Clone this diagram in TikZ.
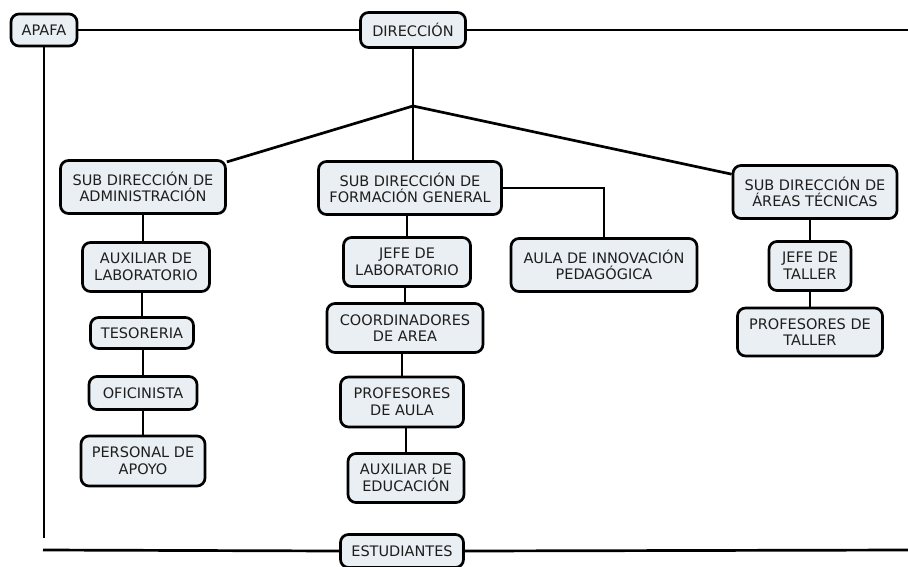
\documentclass[tikz,border=0pt]{standalone}
\usepackage{fontspec}
\setmainfont{DejaVu Sans}
\begin{document}
\begin{tikzpicture}[x=1pt,y=-1pt,
  box/.style={draw=black, line width=2.7pt, rounded corners=8pt, fill=boxfill,
    align=center, inner sep=2pt, text=textgray, font=\fontsize{14.5}{16.7}\selectfont},
  conn/.style={line width=2.7pt}]
\definecolor{boxfill}{RGB}{233,239,242}
\definecolor{textgray}{RGB}{30,30,30}
\useasboundingbox (0,0) rectangle (908,566);
\node[box, minimum width=66pt, minimum height=32pt] (apafa) at (44,30) {APAFA};
\node[box, minimum width=105pt, minimum height=35pt] (dir) at (413,30) {DIRECCIÓN};
\node[box, minimum width=123pt, minimum height=33pt] (est) at (402,551) {ESTUDIANTES};
\node[box, minimum width=165pt, minimum height=53pt] (subadm) at (143,187) {SUB DIRECCIÓN DE\\ADMINISTRACIÓN};
\node[box, minimum width=127pt, minimum height=49pt] (auxlab) at (146,267) {AUXILIAR DE\\LABORATORIO};
\node[box, minimum width=103pt, minimum height=31pt] (teso) at (142,333) {TESORERIA};
\node[box, minimum width=108pt, minimum height=33pt] (ofi) at (143,393) {OFICINISTA};
\node[box, minimum width=124pt, minimum height=50pt] (pers) at (143,461) {PERSONAL DE\\APOYO};
\node[box, minimum width=183pt, minimum height=53pt] (subform) at (410,188) {SUB DIRECCIÓN DE\\FORMACIÓN GENERAL};
\node[box, minimum width=127pt, minimum height=49pt] (jefelab) at (407,262) {JEFE DE\\LABORATORIO};
\node[box, minimum width=186pt, minimum height=53pt] (aula) at (604,265) {AULA DE INNOVACIÓN\\PEDAGÓGICA};
\node[box, minimum width=156pt, minimum height=49pt] (coord) at (405,328) {COORDINADORES\\DE AREA};
\node[box, minimum width=123pt, minimum height=50pt] (prof) at (402,402) {PROFESORES\\DE AULA};
\node[box, minimum width=116pt, minimum height=49pt] (auxedu) at (406,478) {AUXILIAR DE\\EDUCACIÓN};
\node[box, minimum width=164pt, minimum height=53pt] (subtec) at (815,192) {SUB DIRECCIÓN DE\\ÁREAS TÉCNICAS};
\node[box, minimum width=82pt, minimum height=49pt] (jefetal) at (810,266) {JEFE DE\\TALLER};
\node[box, minimum width=145pt, minimum height=48pt] (proftal) at (810,332) {PROFESORES DE\\TALLER};
\coordinate (topR) at (908,30);
\coordinate (leftB) at (43,538);
\coordinate (botL) at (43,550);
\coordinate (botR) at (908,550);
\coordinate (junc) at (413,106);
\draw[conn] (apafa.east) -- (dir.west);
\draw[conn] (dir.east) -- (topR);
\draw[conn] (apafa.south) -- (apafa.south |- leftB);
\draw[conn] (botL) -- (est.west);
\draw[conn] (est.east) -- (botR);
\draw[conn] (dir.south) -- (junc);
\draw[conn] (junc) -- (subadm);
\draw[conn] (junc) -- (junc |- subform.north);
\draw[conn] (junc) -- (subtec);
\draw[conn] (subadm.south) -- (subadm.south |- auxlab.north);
\draw[conn] (teso.north |- auxlab.south) -- (teso.north);
\draw[conn] (ofi.north |- teso.south) -- (ofi.north);
\draw[conn] (pers.north |- ofi.south) -- (pers.north);
\draw[conn] (jefelab.north |- subform.south) -- (jefelab.north);
\draw[conn] (subform.east) -| (aula.north);
\draw[conn] (coord.north |- jefelab.south) -- (coord.north);
\draw[conn] (prof.north |- coord.south) -- (prof.north);
\draw[conn] (auxedu.north |- prof.south) -- (auxedu.north);
\draw[conn] (jefetal.north |- subtec.south) -- (jefetal.north);
\draw[conn] (jefetal.south) -- (jefetal.south |- proftal.north);
\end{tikzpicture}
\end{document}
